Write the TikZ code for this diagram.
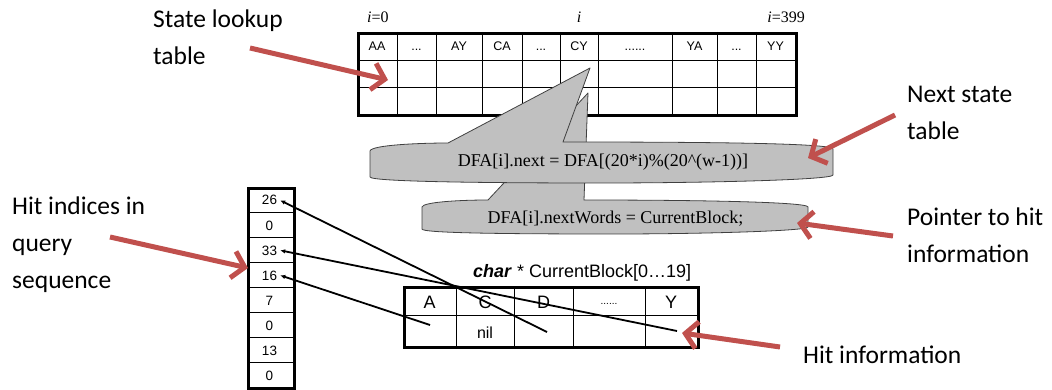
\documentclass[tikz,border=0pt]{standalone}
\usepackage{fontspec}
\setmainfont{Liberation Serif}
\setsansfont{Liberation Sans}
\newfontfamily\labfont{Carlito}
\usetikzlibrary{arrows.meta}
\definecolor{redarrow}{HTML}{C0504D}
\definecolor{callgray}{HTML}{C0C0C0}
\definecolor{calledge}{HTML}{404040}
\begin{document}
\begin{tikzpicture}[x=1pt,y=-1pt,
  lab/.style={font=\labfont\fontsize{25.5}{37}\selectfont, align=left, anchor=base west, inner sep=0pt},
  redarr/.style={draw=redarrow, line width=5pt, -{Straight Barb[length=12pt,width=27pt]}},
  thickbox/.style={draw, line width=2.6pt},
  thin/.style={draw, line width=0.9pt},
  hdr/.style={font=\sffamily\fontsize{12.5}{14}\selectfont, anchor=base, inner sep=0pt},
  idx/.style={font=\fontsize{16}{18}\selectfont, anchor=base, inner sep=0pt},
  num/.style={font=\sffamily\fontsize{13.5}{15}\selectfont, anchor=base, inner sep=3pt},
  blk/.style={font=\sffamily\fontsize{18}{20}\selectfont, anchor=base, inner sep=0pt},
  callout/.style={fill=callgray, draw=calledge, line width=0.8pt, line join=round},
  calltext/.style={font=\fontsize{18}{20}\selectfont, anchor=base, inner sep=0pt},
  ptr/.style={draw, line width=1.8pt, -{Latex[length=5pt,width=4.5pt]}}
]
\useasboundingbox (0,0) rectangle (1052,390);

% ---------- State lookup table ----------
\foreach \x in {397,436,482,522,560,598,672,717,756}{
  \draw[thin] (\x,32) -- (\x,114);
}
\draw[thin] (357,60) -- (795,60);
\draw[thin] (357,87) -- (795,87);
\node[thickbox, minimum width=438pt, minimum height=82pt, inner sep=0pt, anchor=north west] (lookup) at (357,32) {};

\node[hdr] (hAA) at (377,51) {AA};
\node[hdr] (hd1) at (416.5,51) {...};
\node[hdr] (hAY) at (459,51) {AY};
\node[hdr] (hCA) at (502,51) {CA};
\node[hdr] (hd2) at (541,51) {...};
\node[hdr] (hCY) at (579,51) {CY};
\node[hdr] (hd3) at (635,51) {......};
\node[hdr] (hYA) at (694.5,51) {YA};
\node[hdr] (hd4) at (736.5,51) {...};
\node[hdr] (hYY) at (775.5,51) {YY};

\node[idx, anchor=base west] (i0) at (367,23) {\textit{i}=0};
\node[idx] (ii) at (579,23) {\textit{i}};
\node[idx, anchor=base east] (i399) at (805,23) {\textit{i}=399};

% ---------- Callouts ----------
\path[callout] (488,200) -- (588,93) -- (584,200)
  .. controls (700,200) and (808,202) .. (808,207) -- (808,227)
  .. controls (808,231) and (700,234) .. (615,234)
  .. controls (500,234) and (422,233) .. (422,229) -- (422,207)
  .. controls (423,202) and (460,200) .. cycle;
\node[calltext] (words) at (615.5,223) {DFA[i].nextWords = CurrentBlock;};

\path[callout] (448,143) -- (590,68) -- (563,142)
  .. controls (700,142) and (833,143) .. (833,149) -- (833,175)
  .. controls (833,180) and (700,183) .. (601,183)
  .. controls (500,183) and (371,182) .. (370,177) -- (370,151)
  .. controls (371,145) and (420,143) .. cycle;
\node[calltext] (next) at (603,167) {DFA[i].next = DFA[(20*i)\%(20\^{}(w-1))]};

% ---------- Hit index stack ----------
\foreach \y in {212,237,262,287,312,337,362}{
  \draw[thin] (247,\y) -- (293,\y);
}
\node[thickbox, minimum width=46pt, minimum height=200pt, inner sep=0pt, anchor=north west] (stack) at (247,187) {};
\node[num] (n26) at (269.5,205) {26};
\node[num] (n0a) at (269.5,230) {0};
\node[num] (n33) at (269.5,255) {33};
\node[num] (n16) at (269.5,280) {16};
\node[num] (n7) at (269.5,305) {7};
\node[num] (n0b) at (269.5,330) {0};
\node[num] (n13) at (269.5,355) {13};
\node[num] (n0c) at (269.5,380) {0};

% ---------- CurrentBlock table ----------
\foreach \x in {456,514,573,645}{
  \draw[thin] (\x,286) -- (\x,346);
}
\draw[thin] (403,315) -- (697,315);
\node[thickbox, minimum width=294pt, minimum height=60pt, inner sep=0pt, anchor=north west] (block) at (403,286) {};
\node[font=\sffamily\fontsize{18}{20}\selectfont, anchor=base west, inner sep=0pt] (title) at (473,277) {\textbf{\textit{char}} * CurrentBlock[0…19]};
\node[blk] (bA) at (429.5,308) {A};
\node[blk] (bC) at (485,308) {C};
\node[blk] (bD) at (543.5,308) {D};
\node[blk, font=\sffamily\fontsize{10}{12}\selectfont] (bdots) at (609,304) {......};
\node[blk] (bY) at (671,308) {Y};
\node[blk, font=\sffamily\fontsize{16}{18}\selectfont] (nil) at (485,338) {nil};

\coordinate (pA) at (430,325);
\coordinate (pC) at (547,332);
\coordinate (pY) at (677,331);
\draw[ptr] (pC) -- (n26.east);
\draw[ptr] (pY) -- (n33.east);
\draw[ptr] (pA) -- (n16.east);

% ---------- Labels (anchor = baseline of last line) ----------
\node[lab] (lState) at (153,65) {State lookup\\table};
\node[lab] (lNext) at (907,140) {Next state\\table};
\node[lab] (lHit) at (12,288) {Hit indices in\\query\\sequence};
\node[lab] (lPtr) at (907,262) {Pointer to hit\\information};
\node[lab] (lInfo) at (803,363) {Hit information};

% ---------- Red arrows ----------
\coordinate (s1) at (250,48);  \coordinate (e1) at (388,80);
\coordinate (s2) at (895,115); \coordinate (e2) at (808,158);
\coordinate (s3) at (893,236); \coordinate (e3) at (797,223);
\coordinate (s4) at (110,237); \coordinate (e4) at (248,268);
\coordinate (s5) at (780,347); \coordinate (e5) at (682,333);
\draw[redarr] (s1) -- (e1);
\draw[redarr] (s2) -- (e2);
\draw[redarr] (s3) -- (e3);
\draw[redarr] (s4) -- (e4);
\draw[redarr] (s5) -- (e5);
\end{tikzpicture}
\end{document}
